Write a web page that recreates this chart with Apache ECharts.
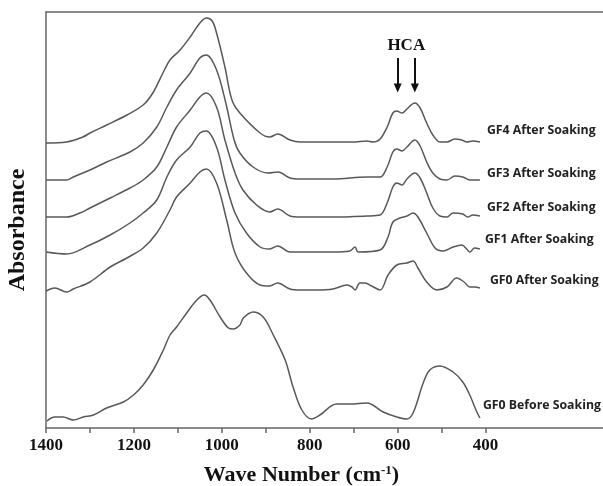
<!DOCTYPE html>
<html>
<head>
<meta charset="utf-8">
<script src="https://cdn.jsdelivr.net/npm/echarts@6/dist/echarts.min.js"></script>
<style>
  html, body { margin: 0; padding: 0; background: #fff; }
  #main { width: 603px; height: 486px; }
</style>
</head>
<body>
<div id="main"></div>
<script>
// FTIR spectra, [wave number, absorbance (offset, arbitrary units)]
var gf4After = [[1400,285],[1353,286],[1316,291],[1300,295],[1262,303],[1216,313],[1179,323],[1157,335],[1134,355],[1118,368],[1095,378],[1072,391],[1050,405],[1035,410],[1022,407],[1012,395],[993,361],[977,328],[959,315],[913,295],[891,291],[873,294],[845,288],[822,286],[747,286],[702,286],[670,287],[656,286],[640,289],[624,301],[611,315],[602,317],[590,315],[579,319],[561,325],[549,320],[534,305],[520,293],[504,286],[488,286],[470,289],[454,288],[443,286],[429,287],[413,286]];
var gf3After = [[1400,248],[1353,248],[1338,251],[1300,258],[1262,266],[1209,276],[1179,285],[1148,301],[1125,321],[1103,338],[1072,355],[1050,370],[1035,373],[1012,358],[991,325],[972,288],[959,275],[929,261],[895,255],[872,256],[845,250],[822,249],[747,249],[670,251],[640,251],[624,261],[611,276],[602,279],[590,277],[579,281],[561,288],[549,282],[534,266],[520,255],[504,249],[488,248],[470,252],[452,251],[436,248],[413,248]];
var gf2After = [[1400,211],[1353,211],[1323,215],[1300,220],[1254,230],[1209,240],[1179,248],[1148,261],[1125,281],[1103,301],[1072,318],[1050,331],[1035,335],[1012,321],[993,288],[970,255],[952,238],[921,223],[891,216],[873,219],[845,212],[822,211],[747,211],[670,212],[640,213],[624,225],[611,241],[602,245],[590,243],[579,249],[561,255],[549,250],[534,235],[520,220],[504,212],[488,211],[474,215],[452,214],[441,211],[429,213],[413,212]];
var gf1After = [[1400,176],[1353,174],[1300,183],[1254,193],[1209,205],[1179,215],[1148,228],[1125,251],[1103,268],[1072,281],[1050,295],[1035,297],[1012,281],[993,248],[970,215],[944,195],[913,181],[891,179],[873,182],[845,176],[822,176],[747,176],[709,177],[697,181],[690,176],[640,178],[622,191],[611,206],[595,210],[579,212],[565,215],[554,211],[534,195],[515,180],[497,177],[474,181],[454,183],[443,179],[436,176],[425,180],[413,179]];
var gf0After = [[1400,137],[1380,140],[1353,136],[1338,139],[1300,146],[1254,161],[1216,170],[1179,180],[1148,195],[1118,218],[1103,231],[1072,245],[1050,256],[1035,259],[1012,245],[989,208],[970,175],[944,155],[913,143],[891,142],[873,145],[845,139],[822,138],[784,138],[747,139],[715,143],[704,141],[697,138],[686,145],[674,145],[659,142],[640,138],[622,153],[602,163],[579,165],[565,167],[554,160],[534,146],[511,138],[488,141],[466,150],[449,146],[436,141],[425,141],[413,140]];
var gf0Before = [[1398,7],[1380,11],[1361,11],[1338,8],[1315,11],[1292,13],[1262,20],[1224,26],[1201,33],[1179,43],[1156,58],[1133,78],[1118,93],[1103,101],[1080,115],[1057,128],[1040,133],[1027,128],[1004,111],[985,100],[974,99],[959,103],[951,110],[929,116],[906,111],[883,93],[856,68],[838,41],[818,18],[796,9],[777,13],[739,24],[709,24],[670,25],[633,16],[602,11],[580,9],[565,15],[542,45],[527,58],[504,62],[474,56],[452,46],[436,33],[422,18],[413,10]];

var seriesNames = ['GF4 After Soaking', 'GF3 After Soaking', 'GF2 After Soaking', 'GF1 After Soaking', 'GF0 After Soaking', 'GF0 Before Soaking'];
var seriesData = [gf4After, gf3After, gf2After, gf1After, gf0After, gf0Before];

var tickValues = [1400, 1300, 1200, 1100, 1000, 900, 800, 700, 600, 500, 400];
var labelValues = [1400, 1200, 1000, 800, 600, 400];
var hcaBands = [600, 561];

// label offsets next to the end of each curve
var labelOffsets = [[2, -12], [2, -7], [2, -9], [0, -10], [5, -8], [-2, -13]];

var myChart = echarts.init(document.getElementById('main'));

var lineColor = '#585858';
var series = [];
for (var i = 0; i < seriesData.length; i++) {
    var d = seriesData[i];
    series.push({
        name: seriesNames[i],
        type: 'line',
        data: d,
        smooth: 0.35,
        showSymbol: false,
        symbol: 'none',
        lineStyle: { color: lineColor, width: 1.5 },
        //曲线末端的标签
        markPoint: {
            silent: true,
            symbol: 'circle',
            symbolSize: 0,
            label: {
                show: true,
                position: 'right',
                distance: 5,
                offset: labelOffsets[i],
                formatter: seriesNames[i],
                color: '#222',
                fontFamily: 'Open Sans',
                fontWeight: 'bold',
                fontSize: 12.3
            },
            data: [{ coord: d[d.length - 1] }]
        }
    });
}

// HCA arrows and text on the top curve
series[0].markLine = {
    silent: true,
    symbol: ['none', 'triangle'],
    symbolSize: [8, 9],
    label: { show: false },
    lineStyle: { color: '#111', width: 2, type: 'solid' },
    data: hcaBands.map(function (w) {
        return [{ coord: [w, 370] }, { coord: [w, 340] }];
    })
};
series.push({
    type: 'scatter',
    silent: true,
    symbolSize: 0,
    itemStyle: { opacity: 1 },
    data: [[(hcaBands[0] + hcaBands[1]) / 2, 382]],
    label: {
        show: true,
        position: 'inside',
        formatter: 'HCA',
        color: '#111',
        fontFamily: 'Liberation Serif',
        fontWeight: 'bold',
        fontSize: 17
    }
});

var option = {
    backgroundColor: '#fff',
    animation: false,
    grid: { left: 46, right: 0, top: 12, bottom: 58, outerBoundsMode: 'none', containLabel: false },
    xAxis: [{
        type: 'value',
        inverse: true,
        min: 133,
        max: 1400,
        name: 'Wave Number (cm{sup|-1})',
        nameLocation: 'middle',
        nameGap: 36,
        nameTextStyle: {
            fontFamily: 'Liberation Serif',
            fontWeight: 'bold',
            fontSize: 22,
            color: '#111',
            padding: [0, 46, 0, 0],
            rich: {
                sup: {
                    fontFamily: 'Liberation Serif',
                    fontWeight: 'bold',
                    fontSize: 13,
                    color: '#111',
                    verticalAlign: 'top',
                    padding: [0, 0, 8, 0]
                }
            }
        },
        axisLine: { show: true, onZero: false, lineStyle: { color: '#666', width: 1.5 } },
        axisTick: { show: true, inside: false, length: 5, customValues: tickValues, lineStyle: { color: '#666', width: 1.5 } },
        axisLabel: {
            customValues: labelValues,
            formatter: function (v) { return String(v); },
            margin: 9,
            fontFamily: 'Liberation Serif',
            fontWeight: 'bold',
            fontSize: 17,
            color: '#111'
        },
        splitLine: { show: false }
    }, {
        type: 'value',
        position: 'top',
        min: 133,
        max: 1400,
        axisLine: { show: true, onZero: false, lineStyle: { color: '#666', width: 1.5 } },
        axisTick: { show: false },
        axisLabel: { show: false },
        splitLine: { show: false }
    }],
    yAxis: {
        type: 'value',
        min: 0,
        max: 416,
        name: 'Absorbance',
        nameLocation: 'middle',
        nameGap: 16,
        nameTextStyle: {
            fontFamily: 'Liberation Serif',
            fontWeight: 'bold',
            fontSize: 24,
            color: '#111',
            padding: [0, 20, 0, 0]
        },
        axisLine: { show: true, onZero: false, lineStyle: { color: '#666', width: 1.5 } },
        axisTick: { show: false },
        axisLabel: { show: false },
        splitLine: { show: false }
    },
    series: series
};

myChart.setOption(option);
</script>
</body>
</html>
